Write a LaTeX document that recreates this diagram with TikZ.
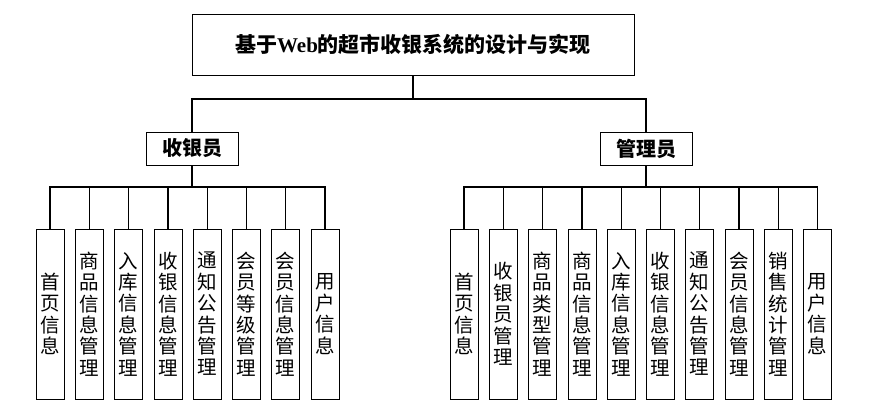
\documentclass[tikz,border=0pt]{standalone}
\usepackage{fontspec}
\newfontfamily\cjk{Noto Sans CJK SC}
\newfontfamily\lserif{Liberation Serif}
\begin{document}
\begin{tikzpicture}[x=1pt,y=-1pt,
  box/.style={draw, line width=0.8pt, inner sep=0pt, align=center},
  titlebox/.style={box, minimum width=442pt, minimum height=61pt, font=\cjk\bfseries\fontsize{21}{24}\selectfont},
  rolebox/.style={box, minimum width=92pt, minimum height=33pt, font=\cjk\bfseries\fontsize{20}{22}\selectfont},
  leaf/.style={box, minimum width=28pt, minimum height=170pt, font=\cjk\fontsize{19.5}{21.4}\selectfont},
  conn/.style={line width=1.2pt}]
\useasboundingbox (0,0) rectangle (881,419);
\node[titlebox] (title) at (413,44.5) {基于{\lserif\bfseries Web}的超市收银系统的设计与实现};
\node[rolebox] (cash) at (192,148.5) {收银员};
\node[rolebox] (mgr) at (646,148.5) {管理员};
\coordinate (busT) at (413,99);
\coordinate (busL) at (192,187);
\coordinate (busR) at (646,187);
% left leaves
\node[leaf] (a1) at (50,314) {首\\页\\信\\息};
\node[leaf] (a2) at (89.3,314) {商\\品\\信\\息\\管\\理};
\node[leaf] (a3) at (128.6,314) {入\\库\\信\\息\\管\\理};
\node[leaf] (a4) at (167.9,314) {收\\银\\信\\息\\管\\理};
\node[leaf] (a5) at (207.1,314) {通\\知\\公\\告\\管\\理};
\node[leaf] (a6) at (246.4,314) {会\\员\\等\\级\\管\\理};
\node[leaf] (a7) at (285.7,314) {会\\员\\信\\息\\管\\理};
\node[leaf] (a8) at (325,314) {用\\户\\信\\息};
% right leaves
\node[leaf] (b1) at (464,314) {首\\页\\信\\息};
\node[leaf] (b2) at (503.3,314) {收\\银\\员\\管\\理};
\node[leaf] (b3) at (542.6,314) {商\\品\\类\\型\\管\\理};
\node[leaf] (b4) at (581.9,314) {商\\品\\信\\息\\管\\理};
\node[leaf] (b5) at (621.1,314) {入\\库\\信\\息\\管\\理};
\node[leaf] (b6) at (660.4,314) {收\\银\\信\\息\\管\\理};
\node[leaf] (b7) at (699.7,314) {通\\知\\公\\告\\管\\理};
\node[leaf] (b8) at (739,314) {会\\员\\信\\息\\管\\理};
\node[leaf] (b9) at (778.3,314) {销\\售\\统\\计\\管\\理};
\node[leaf] (b10) at (817.6,314) {用\\户\\信\\息};
% connectors
\draw[conn] (title.south) -- (busT);
\draw[conn] (cash.north) -- (cash.north |- busT) -- (mgr.north |- busT) -- (mgr.north);
\draw[conn] (cash.south) -- (busL);
\draw[conn] (a1.north) -- (a1.north |- busL) -- (a8.north |- busL) -- (a8.north);
\foreach \i in {2,...,7} \draw[conn] (a\i.north) -- (a\i.north |- busL);
\draw[conn] (mgr.south) -- (busR);
\draw[conn] (b1.north) -- (b1.north |- busR) -- (b10.north |- busR) -- (b10.north);
\foreach \i in {2,...,9} \draw[conn] (b\i.north) -- (b\i.north |- busR);
\end{tikzpicture}
\end{document}
